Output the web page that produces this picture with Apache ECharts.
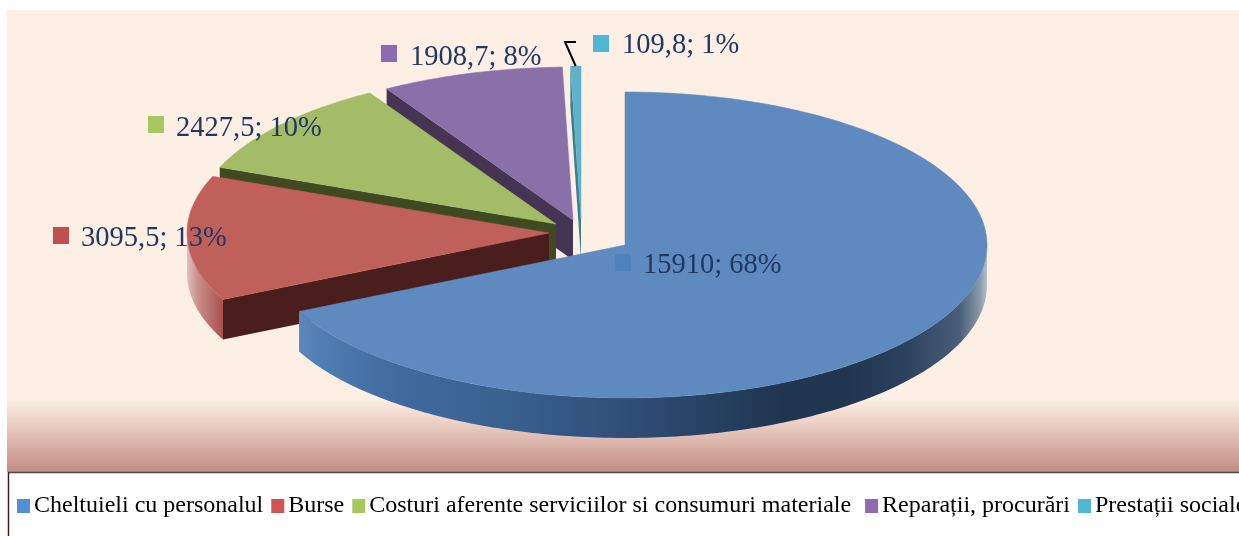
<!DOCTYPE html>
<html>
<head>
<meta charset="utf-8">
<style>html,body{margin:0;padding:0;background:#fff}#c{width:1239px;height:536px}</style>
<script src="https://cdn.jsdelivr.net/npm/echarts@6/dist/echarts.min.js"></script>
</head>
<body>
<div id="c"></div>
<script>
var categories = ['Cheltuieli cu personalul', 'Burse', 'Costuri aferente serviciilor si consumuri materiale ', 'Reparații, procurări', 'Prestații sociale'];
var values = [15910, 3095.5, 2427.5, 1908.7, 109.8];
var percentLabels = ['68%', '13%', '10%', '8%', '1%'];
var valueLabels = ['15910', '3095,5', '2427,5', '1908,7', '109,8'];

var total = values.reduce(function (a, b) { return a + b; }, 0);
var RX = 362, RY = 153, DEPTH = 40;
var PI2 = Math.PI * 2;

var looks = [
  { center: [625, 245], top: '#5F8ABF', legend: '#558ED5', marker: '#4F81BD', cut: '#3F6A9E',
    rim: [[0, '#5C88BC'], [0.046, '#4C7BAF'], [0.15, '#3F6A9E'], [0.29, '#3A6290'], [0.467, '#2F4F78'], [0.7, '#203650'], [0.8, '#20364F'], [0.874, '#2A3F5C'], [0.96, '#4A5E78'], [0.99, '#8A9AAA'], [1, '#B8C0C8']],
    label: [643, 266], mark: [615, 254] },
  { center: [549, 233], top: '#C0605B', legend: '#CD5554', marker: '#C0504D', cut: '#4A1E1C',
    rim: [[0, '#E0C0C0'], [0.3, '#C98F8C'], [1, '#A8504C']],
    label: [81, 239], mark: [53, 227] },
  { center: [556, 224], top: '#A2BC68', legend: '#A6C85F', marker: '#A6C85F', cut: '#404A20',
    rim: [[0, '#8FA65A'], [1, '#8FA65A']],
    label: [176, 129], mark: [148, 116] },
  { center: [573, 220], top: '#8A70A8', legend: '#8E6BB0', marker: '#8E6BB0', cut: '#463552',
    rim: [[0, '#6F5A88'], [1, '#6F5A88']],
    label: [410, 58], mark: [381, 45] },
  { center: [581, 219], top: '#5FB3C8', legend: '#4FB6D3', marker: '#4FB6D3', cut: '#3A7F90',
    rim: [[0, '#4A92A5'], [1, '#4A92A5']],
    label: [622, 46], mark: [593, 35] }
];

function pt(c, a, dz) {
  return [c[0] + RX * Math.sin(a), c[1] - RY * Math.cos(a) + (dz || 0)];
}
function arc(c, a0, a1, dz) {
  var out = [], n = Math.max(2, Math.ceil(Math.abs(a1 - a0) * 60));
  for (var i = 0; i <= n; i++) { out.push(pt(c, a0 + (a1 - a0) * i / n, dz)); }
  return out;
}
var startAngles = [];
(function () {
  var acc = 0;
  values.forEach(function (v) { startAngles.push(acc / total * PI2); acc += v; });
})();

function renderSlice(idx) {
  return function (params, api) {
    var v = api.value(0);
    var look = looks[idx], c = look.center;
    var a0 = startAngles[idx], a1 = a0 + v / total * PI2;
    var children = [];
    if (a0 > Math.PI) {
      var e = pt(c, a0);
      children.push({ type: 'polygon', shape: { points: [c, e, [e[0], e[1] + DEPTH], [c[0], c[1] + DEPTH]] },
        style: { fill: look.cut } });
    }
    var r0 = Math.max(a0, Math.PI / 2), r1 = Math.min(a1, Math.PI * 1.5);
    if (r1 > r0) {
      var upper = arc(c, r0, r1, 0), lower = arc(c, r1, r0, DEPTH);
      var xs = upper.map(function (p) { return p[0]; });
      var minX = Math.min.apply(null, xs), maxX = Math.max.apply(null, xs);
      children.push({ type: 'polygon', shape: { points: upper.concat(lower) },
        style: { fill: new echarts.graphic.LinearGradient(minX, 0, maxX, 0,
          look.rim.map(function (s) { return { offset: s[0], color: s[1] }; }), true) } });
    }
    children.push({ type: 'polygon', shape: { points: [c].concat(arc(c, a0, a1, 0)) },
      style: { fill: look.top, stroke: look.top, lineWidth: 0.5 } });
    return { type: 'group', children: children };
  };
}
function renderLabel(idx) {
  var look = looks[idx], children = [];
  children.push({ type: 'rect', shape: { x: look.mark[0], y: look.mark[1], width: 16, height: 17 },
    style: { fill: look.marker } });
  children.push({ type: 'text', style: { x: look.label[0], y: look.label[1],
    text: valueLabels[idx] + '; ' + percentLabels[idx],
    font: '28.5px "Liberation Serif"', fill: '#1F3864', textAlign: 'left', textVerticalAlign: 'middle' } });
  if (idx === 4) {
    var tip = pt(look.center, startAngles[4] + values[4] / total * Math.PI);
    children.push({ type: 'polyline', shape: { points: [tip, [565, 42], [576, 42]] },
      style: { stroke: '#000', lineWidth: 2, fill: 'none' } });
  }
  return { type: 'group', children: children };
}

var drawOrder = [4, 3, 2, 1, 0];
var series = [];
drawOrder.forEach(function (idx, k) {
  series.push({ type: 'custom', name: categories[idx], coordinateSystem: 'none', silent: true, animation: false,
    z: 2 + k, itemStyle: { color: looks[idx].legend }, data: [[values[idx]]], renderItem: renderSlice(idx) });
});
series.push({ type: 'custom', name: 'labels', coordinateSystem: 'none', silent: true, animation: false, z: 20,
  data: [[0]], renderItem: function () {
    return { type: 'group', children: [0, 1, 2, 3, 4].map(renderLabel) };
  } });

var chart = echarts.init(document.getElementById('c'), null, { renderer: 'canvas' });
chart.setOption({
  animation: false,
  backgroundColor: '#fff',
  legend: {
    data: categories.map(function (n) { return { name: n, icon: 'rect' }; }),
    left: 17, top: 494, width: 1500, orient: 'horizontal', padding: 0,
    itemWidth: 13, itemHeight: 14, itemGap: 8, selectedMode: false,
    textStyle: { fontFamily: '"Liberation Serif"', fontSize: 24, color: '#000', padding: [0, 0, 0, -1] }
  },
  graphic: [
    { type: 'rect', z: -10, shape: { x: 7, y: 10, width: 1232, height: 462 }, style: {
      fill: new echarts.graphic.LinearGradient(0, 10, 0, 472, [
        { offset: 0, color: '#FDEFE3' }, { offset: 0.844, color: '#FDEFE3' },
        { offset: 1, color: '#C48C84' }], true) } },
    { type: 'line', z: -5, shape: { x1: 8, y1: 472.5, x2: 1239, y2: 472.5 }, style: { stroke: '#4A4A4A', lineWidth: 1.5 } },
    { type: 'line', z: -5, shape: { x1: 8.5, y1: 472, x2: 8.5, y2: 536 }, style: { stroke: '#3A2020', lineWidth: 1.5 } }
  ],
  series: series
});
</script>
</body>
</html>
